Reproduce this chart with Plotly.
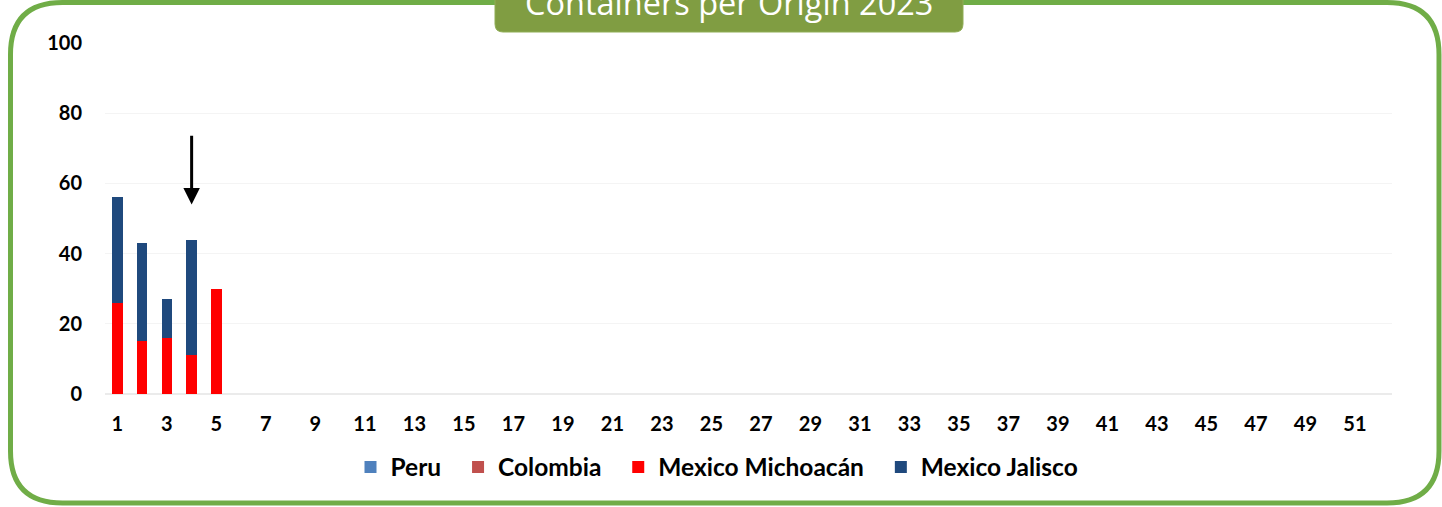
import plotly.graph_objects as go

WEEKS = list(range(1, 53))
PERU = [0, 0, 0, 0, 0] + [None] * 47
COLOMBIA = [0, 0, 0, 0, 0] + [None] * 47
MICHOACAN = [26, 15, 16, 11, 30] + [None] * 47
JALISCO = [30, 28, 11, 33, 0] + [None] * 47
TITLE = "Containers per Origin 2023"
ARROW_WEEK = 4
ARROW_FROM, ARROW_TO = 74, 54

W, H = 1442, 507
L, R, T, B = 105, 50, 43, 113
PW, PH = W - L - R, H - T - B

BORDER = "#70ad47"
TITLE_BG = "#809d42"
FONT = "Lato"
PAD = "\u00a0" * 2  # extra room between legend entries


def px(x):
    return (x - L) / PW


def py(y):
    return (H - B - y) / PH


def rounded_path(x0, y0, x1, y1, r):
    # pixel coords -> paper path with rounded corners
    pts = [
        f"M {px(x0 + r)},{py(y0)}",
        f"L {px(x1 - r)},{py(y0)}",
        f"Q {px(x1)},{py(y0)} {px(x1)},{py(y0 + r)}",
        f"L {px(x1)},{py(y1 - r)}",
        f"Q {px(x1)},{py(y1)} {px(x1 - r)},{py(y1)}",
        f"L {px(x0 + r)},{py(y1)}",
        f"Q {px(x0)},{py(y1)} {px(x0)},{py(y1 - r)}",
        f"L {px(x0)},{py(y0 + r)}",
        f"Q {px(x0)},{py(y0)} {px(x0 + r)},{py(y0)}",
        "Z",
    ]
    return " ".join(pts)


series = [
    ("Peru" + PAD, PERU, "#4f81bd"),
    ("Colombia" + PAD, COLOMBIA, "#c0504d"),
    ("Mexico Michoacán" + PAD, MICHOACAN, "#ff0000"),
    ("Mexico Jalisco", JALISCO, "#1f497d"),
]

fig = go.Figure()
for name, vals, color in series:
    fig.add_trace(
        go.Bar(
            x=WEEKS,
            y=vals,
            name=name,
            marker=dict(color=color, line=dict(width=0)),
            width=0.42,
        )
    )

fig.add_annotation(
    x=ARROW_WEEK, y=ARROW_TO, ax=ARROW_WEEK, ay=ARROW_FROM,
    xref="x", yref="y", axref="x", ayref="y",
    showarrow=True, arrowhead=2, arrowsize=1.1, arrowwidth=3, arrowcolor="#000000",
    text="",
)

fig.add_annotation(
    text=TITLE, x=px(729), y=py(2), xref="paper", yref="paper",
    xanchor="center", yanchor="middle", showarrow=False,
    font=dict(family="Open Sans", size=32.5, color="#ffffff"),
)

fig.update_layout(
    width=W,
    height=H,
    paper_bgcolor="#ffffff",
    plot_bgcolor="#ffffff",
    margin=dict(l=L, r=R, t=T, b=B),
    barmode="stack",
    font=dict(family=FONT, size=20, color="#000000"),
    xaxis=dict(
        range=[0.5, 52.5], tickmode="linear", tick0=1, dtick=2,
        showgrid=False, zeroline=False, showline=False,
        tickfont=dict(family=FONT, size=20, color="#000000", weight="bold"),
        ticklabelstandoff=16,
    ),
    yaxis=dict(
        range=[0, 100], dtick=20, showgrid=True, gridcolor="#f4f4f4", gridwidth=1,
        zeroline=True, zerolinecolor="#ebebeb", zerolinewidth=2, showline=False,
        tickfont=dict(family=FONT, size=20, color="#000000", weight="bold"),
        ticklabelstandoff=22,
    ),
    legend=dict(
        orientation="h", x=px(717), xanchor="center", y=py(467), yanchor="middle",
        font=dict(family=FONT, size=24.5, color="#000000", weight="bold"),
        traceorder="normal", itemwidth=30,
    ),
    shapes=[
        dict(type="path", xref="paper", yref="paper",
             path=rounded_path(10.5, 2.5, 1439, 503, 52),
             line=dict(color=BORDER, width=5), fillcolor="rgba(0,0,0,0)", layer="above"),
        dict(type="path", xref="paper", yref="paper",
             path=rounded_path(495, -20, 963, 32, 8),
             line=dict(color="#8fad55", width=1), fillcolor=TITLE_BG, layer="above"),
    ],
)
fig.write_html(
    "out.html",
    config=dict(displayModeBar=False),
    post_script="document.body.style.margin='0';",
)
